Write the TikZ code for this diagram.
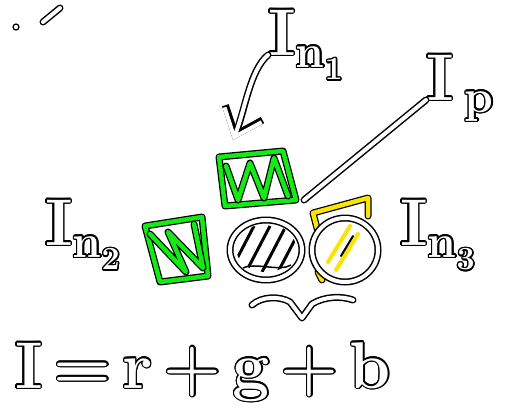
\documentclass[tikz,border=0pt]{standalone}
\usepackage{contour}
\usetikzlibrary{arrows.meta}
\contourlength{1.4pt}
\definecolor{marker}{RGB}{20,235,20}
\definecolor{hilite}{RGB}{250,228,0}
\newcommand{\sbs}[1]{\textsubscript{#1}}
\begin{document}
\begin{tikzpicture}[x=1pt, y=-1pt]
        \tikzstyle{ink}=[line width=7pt, black, line cap=round, line join=round, postaction={draw=white, line width=4pt}]
        \tikzstyle{gink}=[line width=7pt, black, line cap=round, line join=round, postaction={draw=marker, line width=4.5pt}]
        \tikzstyle{yink}=[line width=7pt, black, line cap=round, line join=round, postaction={draw=hilite, line width=4.5pt}]
        \tikzstyle{hand}=[text=white, inner sep=0pt, anchor=base west, font=\bfseries\fontsize{66}{66}\selectfont]

        \useasboundingbox (0,0) rectangle (526,415);

        % stray marks top left
        \draw[black, line width=1.2pt] (16,27) circle [radius=3];
        \draw[ink] (43,22) -- (60,8);

        % labels
        \node[hand] (a) at (268,55) {\contour{black}{I\sbs{n\sbs{1}}}};
        \node[hand] (p) at (426,100) {\contour{black}{I\,\sbs{p}}};
        \node[hand] (l) at (45,245) {\contour{black}{I\sbs{n\sbs{2}}}};
        \node[hand] (r) at (400,245) {\contour{black}{I\sbs{n\sbs{3}}}};
        \node[hand] (eq) at (15,388) {\contour{black}{I\,=\,r\,+\,g\,+\,b}};

        % green squares
        \draw[gink] (219,157) -- (283,151) -- (296,200) -- (225,206) -- cycle;
        \draw[gink] (226,166) -- (238,200) -- (250,163) -- (264,198) -- (274,158) -- (288,196);
        \draw[gink] (145,226) -- (202,217) -- (208,276) -- (160,282) -- cycle;
        \draw[gink] (150,234) -- (186,272) -- (168,232) -- (203,268) -- (194,224);

        % white disc
        \draw[ink, fill=white] (266,250) ellipse [x radius=36, y radius=30];
        \begin{scope}
            \clip (266,248) ellipse [x radius=30, y radius=24];
            \foreach \k in {-24,-8,8,24}
                \draw[black, line width=3pt] (\k+254,272) -- (\k+278,226);
        \end{scope}
        \draw[black, line width=1.5pt] (243,268) .. controls (255,262) and (280,272) .. (291,265);

        % yellow disc
        \draw[yink] (318,232) -- (313,213) -- (368,198) -- (368,216);
        \draw[yink] (318,272) -- (322,280);
        \draw[ink, fill=white] (345,250) ellipse [x radius=33, y radius=32];
        \draw[hilite, line width=4pt, line cap=round] (328,262) -- (350,226) (336,270) -- (358,234);
        \draw[black, line width=2pt, line cap=round] (341,256) -- (353,236);

        % brace
        \draw[ink] (252,305) .. controls (262,296) and (280,296) .. (290,302) -- (302,318) -- (312,304) .. controls (325,296) and (342,296) .. (353,300);

        % pointers
        \coordinate (e1) at (233,140);
        \coordinate (e2) at (304,200);
        \draw[ink, -{Straight Barb[length=24pt, width=40pt]}] (a.base west) .. controls (250,70) and (245,110) .. (e1);
        \draw[ink] (p.base west) -- (e2);
    \end{tikzpicture}
\end{document}
